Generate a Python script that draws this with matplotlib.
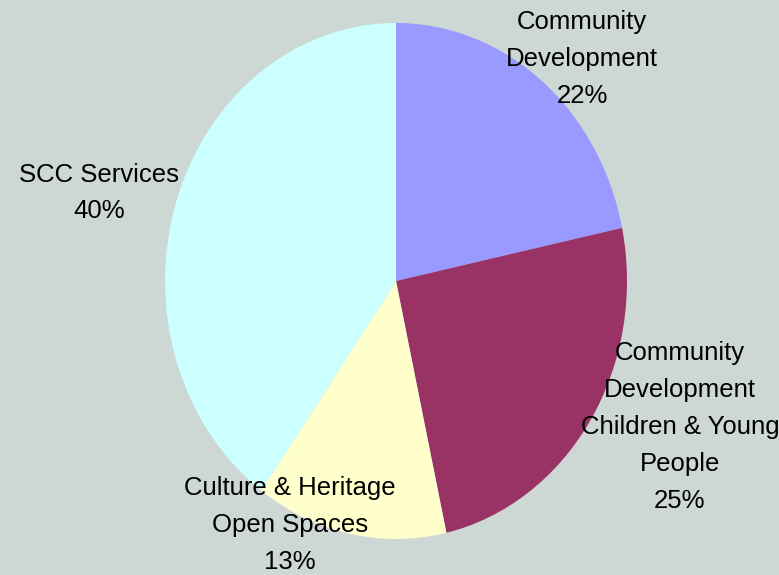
import matplotlib
matplotlib.use("Agg")
import matplotlib.pyplot as plt

categories = ["Community\nDevelopment", "Community\nDevelopment\nChildren & Young\nPeople",
              "Culture & Heritage\nOpen Spaces", "SCC Services"]
values = [21.7, 24.8, 13.4, 40.1]
colors = ["#9999FF", "#993366", "#FFFFCC", "#CCFFFF"]
bg = "#CDD7D3"

W, H = 779, 575
fig = plt.figure(figsize=(W / 100, H / 100), dpi=100, facecolor=bg)
cx, cy, rx, ry = 396, 281, 231, 258
ax = fig.add_axes([(cx - rx) / W, (H - cy - ry) / H, 2 * rx / W, 2 * ry / H])
ax.set_facecolor(bg)
ax.pie(values, colors=colors, startangle=90, counterclock=False, radius=1.0,
       wedgeprops=dict(linewidth=0))
ax.set_aspect("auto")
ax.set_xlim(-1, 1)
ax.set_ylim(-1, 1)
ax.axis("off")

total = sum(values)
label_pos = [(0.805, 0.859), (1.229, -0.566), (-0.459, -0.946), (-1.286, 0.341)]
for cat, v, (x, y) in zip(categories, values, label_pos):
    ax.text(x, y, f"{cat}\n{round(100 * v / total)}%", ha="center", va="center",
            fontsize=18.5, family="Liberation Sans", linespacing=1.68, clip_on=False)

fig.savefig("out.png", dpi=100, facecolor=bg)
